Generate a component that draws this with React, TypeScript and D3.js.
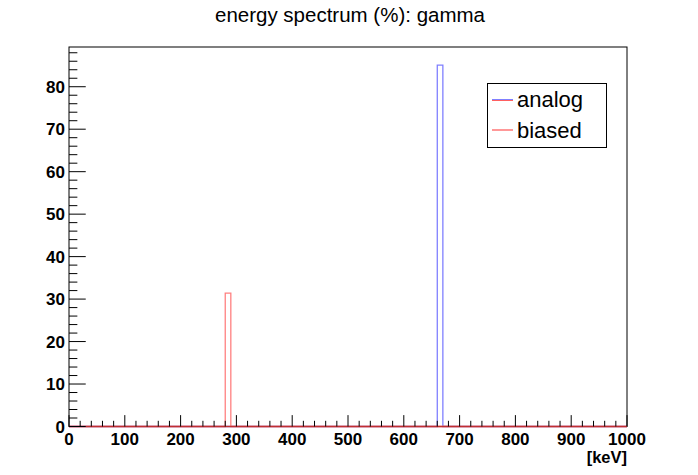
import React from "react";
import * as d3 from "d3";

const title = "energy spectrum (%): gamma";
const xAxisTitle = "[keV]";
const xDomain = [0, 1000];
const binWidth = 10;
const xMajorTicks = [0, 100, 200, 300, 400, 500, 600, 700, 800, 900, 1000];
const yMajorTicks = [0, 10, 20, 30, 40, 50, 60, 70, 80];
const analogBinLow = [660];
const analogValues = [85.1];
const biasedBinLow = [280];
const biasedValues = [31.4];
const legendLabels = ["analog", "biased"];

const W = 698;
const H = 475;
const M = { left: 69, right: 627, top: 47, bottom: 426.5 };

function histPath(x: d3.ScaleLinear<number, number>, y: d3.ScaleLinear<number, number>, lows: number[], vals: number[]) {
  const p = d3.path();
  const y0 = y(0);
  p.moveTo(x(xDomain[0]), y0);
  const order = lows.map((l, i) => i).sort((a, b) => lows[a] - lows[b]);
  for (const i of order) {
    p.lineTo(x(lows[i]), y0);
    p.lineTo(x(lows[i]), y(vals[i]));
    p.lineTo(x(lows[i] + binWidth), y(vals[i]));
    p.lineTo(x(lows[i] + binWidth), y0);
  }
  p.lineTo(x(xDomain[1]), y0);
  return p.toString();
}

export default function App() {
  const maxVal = Math.max(...analogValues, ...biasedValues);
  const x = d3.scaleLinear().domain(xDomain).range([M.left, M.right]);
  const y = d3.scaleLinear().domain([0, maxVal * 1.05]).range([M.bottom, M.top]);
  const plotH = M.bottom - M.top;
  const plotW = M.right - M.left;
  const xMajLen = 0.03 * plotH;
  const yMajLen = 0.03 * plotW;

  const xMinor: number[] = [];
  for (let i = 0; i < xMajorTicks.length - 1; i++) {
    const a = xMajorTicks[i], b = xMajorTicks[i + 1];
    for (let k = 1; k < 5; k++) xMinor.push(a + ((b - a) * k) / 5);
  }
  const yMinor: number[] = [];
  const yStep = yMajorTicks[1] - yMajorTicks[0];
  const yTop = y.domain()[1];
  for (let v = 0; v < yTop; v += yStep) {
    for (let k = 1; k < 5; k++) {
      const t = v + (yStep * k) / 5;
      if (t <= yTop) yMinor.push(t);
    }
  }

  const font = "Liberation Sans, Arial, Helvetica, sans-serif";
  const lx = 487.5, ly = 83.5, lw = 119, lh = 64;

  return (
    <svg width={W} height={H} style={{ position: "absolute", left: 0, top: 0, background: "#fff" }}>
      <rect x={0} y={0} width={W} height={H} fill="#fff" />
      <text x={350} y={22} textAnchor="middle" fontFamily={font} fontSize={20.5} fill="#000">
        {title}
      </text>

      {/* histograms */}
      <path d={histPath(x, y, analogBinLow, analogValues)} fill="none" stroke="#8080ff" strokeWidth={1.3} />
      <path d={histPath(x, y, biasedBinLow, biasedValues)} fill="none" stroke="#ff8080" strokeWidth={1.3} />

      {/* frame */}
      <rect x={M.left} y={M.top} width={plotW} height={plotH} fill="none" stroke="#000" strokeWidth={1} />
      <line x1={M.left} x2={M.right} y1={y(0)} y2={y(0)} stroke="#c03030" strokeWidth={1.5} />

      {/* x ticks */}
      {xMajorTicks.map((t) => (
        <g key={"xm" + t}>
          <line x1={x(t)} x2={x(t)} y1={M.bottom} y2={M.bottom - xMajLen} stroke="#000" strokeWidth={1} />
          <text x={x(t)} y={445} textAnchor="middle" fontFamily={font} fontWeight="bold" fontSize={17}>
            {t}
          </text>
        </g>
      ))}
      {xMinor.map((t) => (
        <line key={"xn" + t} x1={x(t)} x2={x(t)} y1={M.bottom} y2={M.bottom - xMajLen / 2} stroke="#000" strokeWidth={1} />
      ))}
      <text x={M.right} y={462.5} textAnchor="end" fontFamily={font} fontWeight="bold" fontSize={16.5}>
        {xAxisTitle}
      </text>

      {/* y ticks */}
      {yMajorTicks.map((t) => (
        <g key={"ym" + t}>
          <line x1={M.left} x2={M.left + yMajLen} y1={y(t)} y2={y(t)} stroke="#000" strokeWidth={1} />
          <text x={65} y={y(t) + 6} textAnchor="end" fontFamily={font} fontWeight="bold" fontSize={17}>
            {t}
          </text>
        </g>
      ))}
      {yMinor.map((t) => (
        <line key={"yn" + t} x1={M.left} x2={M.left + yMajLen / 2} y1={y(t)} y2={y(t)} stroke="#000" strokeWidth={1} />
      ))}

      {/* legend */}
      <rect x={lx} y={ly} width={lw} height={lh} fill="#fff" stroke="#000" strokeWidth={1} />
      <line x1={492} x2={513} y1={99.5} y2={99.5} stroke="#8080ff" strokeWidth={1} />
      <line x1={492} x2={513} y1={100.5} y2={100.5} stroke="#ff6060" strokeWidth={1} />
      <line x1={492} x2={513} y1={130} y2={130} stroke="#ff6060" strokeWidth={1.3} />
      <text x={517} y={107} fontFamily={font} fontSize={22}>{legendLabels[0]}</text>
      <text x={517} y={137.5} fontFamily={font} fontSize={22}>{legendLabels[1]}</text>
    </svg>
  );
}
